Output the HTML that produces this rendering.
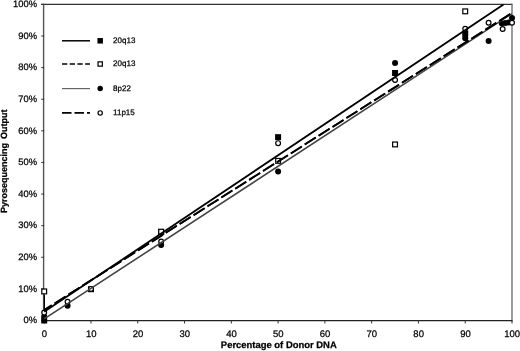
<!DOCTYPE html>
<html><head><meta charset="utf-8"><style>
html,body{margin:0;padding:0;background:#fff;}
body{width:520px;height:351px;overflow:hidden;}
svg{display:block;will-change:transform;text-rendering:geometricPrecision;}
text{font-family:"Liberation Sans",sans-serif;fill:#000;stroke:#000;stroke-width:0.25;}
</style></head><body>
<svg width="520" height="351" viewBox="0 0 520 351">

<line x1="41" y1="4.4" x2="512.3" y2="4.4" stroke="#333" stroke-width="1.3"/>
<line x1="512.0" y1="3.8" x2="512.0" y2="321.5" stroke="#666" stroke-width="1.3"/>
<line x1="43.6" y1="3.8" x2="43.6" y2="321.5" stroke="#555" stroke-width="1.4"/>
<line x1="43" y1="320.7" x2="512.3" y2="320.7" stroke="#222" stroke-width="1.3"/>
<line x1="41.20" y1="320.50" x2="44.20" y2="320.50" stroke="#333" stroke-width="1"/>
<text x="37.1" y="323.30" font-size="9.4" text-anchor="end">0%</text>
<line x1="41.20" y1="288.89" x2="44.20" y2="288.89" stroke="#333" stroke-width="1"/>
<text x="37.1" y="291.69" font-size="9.4" text-anchor="end">10%</text>
<line x1="41.20" y1="257.28" x2="44.20" y2="257.28" stroke="#333" stroke-width="1"/>
<text x="37.1" y="260.08" font-size="9.4" text-anchor="end">20%</text>
<line x1="41.20" y1="225.67" x2="44.20" y2="225.67" stroke="#333" stroke-width="1"/>
<text x="37.1" y="228.47" font-size="9.4" text-anchor="end">30%</text>
<line x1="41.20" y1="194.06" x2="44.20" y2="194.06" stroke="#333" stroke-width="1"/>
<text x="37.1" y="196.86" font-size="9.4" text-anchor="end">40%</text>
<line x1="41.20" y1="162.45" x2="44.20" y2="162.45" stroke="#333" stroke-width="1"/>
<text x="37.1" y="165.25" font-size="9.4" text-anchor="end">50%</text>
<line x1="41.20" y1="130.84" x2="44.20" y2="130.84" stroke="#333" stroke-width="1"/>
<text x="37.1" y="133.64" font-size="9.4" text-anchor="end">60%</text>
<line x1="41.20" y1="99.23" x2="44.20" y2="99.23" stroke="#333" stroke-width="1"/>
<text x="37.1" y="102.03" font-size="9.4" text-anchor="end">70%</text>
<line x1="41.20" y1="67.62" x2="44.20" y2="67.62" stroke="#333" stroke-width="1"/>
<text x="37.1" y="70.42" font-size="9.4" text-anchor="end">80%</text>
<line x1="41.20" y1="36.01" x2="44.20" y2="36.01" stroke="#333" stroke-width="1"/>
<text x="37.1" y="38.81" font-size="9.4" text-anchor="end">90%</text>
<line x1="41.20" y1="4.40" x2="44.20" y2="4.40" stroke="#333" stroke-width="1"/>
<text x="37.1" y="7.20" font-size="9.4" text-anchor="end">100%</text>
<line x1="44.20" y1="320.50" x2="44.20" y2="323.50" stroke="#333" stroke-width="1"/>
<text x="44.40" y="337" font-size="9.5" text-anchor="middle">0</text>
<line x1="90.98" y1="320.50" x2="90.98" y2="323.50" stroke="#333" stroke-width="1"/>
<text x="91.18" y="337" font-size="9.5" text-anchor="middle">10</text>
<line x1="137.76" y1="320.50" x2="137.76" y2="323.50" stroke="#333" stroke-width="1"/>
<text x="137.96" y="337" font-size="9.5" text-anchor="middle">20</text>
<line x1="184.54" y1="320.50" x2="184.54" y2="323.50" stroke="#333" stroke-width="1"/>
<text x="184.74" y="337" font-size="9.5" text-anchor="middle">30</text>
<line x1="231.32" y1="320.50" x2="231.32" y2="323.50" stroke="#333" stroke-width="1"/>
<text x="231.52" y="337" font-size="9.5" text-anchor="middle">40</text>
<line x1="278.10" y1="320.50" x2="278.10" y2="323.50" stroke="#333" stroke-width="1"/>
<text x="278.30" y="337" font-size="9.5" text-anchor="middle">50</text>
<line x1="324.88" y1="320.50" x2="324.88" y2="323.50" stroke="#333" stroke-width="1"/>
<text x="325.08" y="337" font-size="9.5" text-anchor="middle">60</text>
<line x1="371.66" y1="320.50" x2="371.66" y2="323.50" stroke="#333" stroke-width="1"/>
<text x="371.86" y="337" font-size="9.5" text-anchor="middle">70</text>
<line x1="418.44" y1="320.50" x2="418.44" y2="323.50" stroke="#333" stroke-width="1"/>
<text x="418.64" y="337" font-size="9.5" text-anchor="middle">80</text>
<line x1="465.22" y1="320.50" x2="465.22" y2="323.50" stroke="#333" stroke-width="1"/>
<text x="465.42" y="337" font-size="9.5" text-anchor="middle">90</text>
<line x1="512.00" y1="320.50" x2="512.00" y2="323.50" stroke="#333" stroke-width="1"/>
<text x="512.20" y="337" font-size="9.5" text-anchor="middle">100</text>
<text x="278.8" y="348.2" font-size="9.45" font-weight="bold" text-anchor="middle">Percentage of Donor DNA</text>
<text transform="translate(7.3,161.2) rotate(-90)" font-size="9.0" font-weight="bold" text-anchor="middle" word-spacing="1.5">Pyrosequencing Output</text>
<rect x="41.20" y="317.50" width="6.0" height="6.0" fill="#000"/>
<rect x="158.15" y="228.99" width="6.0" height="6.0" fill="#000"/>
<rect x="275.10" y="134.16" width="6.0" height="6.0" fill="#000"/>
<rect x="392.05" y="69.99" width="6.0" height="6.0" fill="#000"/>
<rect x="462.22" y="30.80" width="6.0" height="6.0" fill="#000"/>
<rect x="41.80" y="289.02" width="4.80" height="4.80" fill="#fff" stroke="#000" stroke-width="1.2"/>
<rect x="88.58" y="286.81" width="4.80" height="4.80" fill="#fff" stroke="#000" stroke-width="1.2"/>
<rect x="158.75" y="229.28" width="4.80" height="4.80" fill="#fff" stroke="#000" stroke-width="1.2"/>
<rect x="275.70" y="158.47" width="4.80" height="4.80" fill="#fff" stroke="#000" stroke-width="1.2"/>
<rect x="392.65" y="142.03" width="4.80" height="4.80" fill="#fff" stroke="#000" stroke-width="1.2"/>
<rect x="462.82" y="8.95" width="4.80" height="4.80" fill="#fff" stroke="#000" stroke-width="1.2"/>
<circle cx="44.20" cy="316.39" r="3.0" fill="#000"/>
<circle cx="67.59" cy="305.64" r="3.0" fill="#000"/>
<circle cx="161.15" cy="244.95" r="3.0" fill="#000"/>
<circle cx="278.10" cy="171.62" r="3.0" fill="#000"/>
<circle cx="395.05" cy="62.88" r="3.0" fill="#000"/>
<circle cx="465.22" cy="38.22" r="3.0" fill="#000"/>
<circle cx="488.61" cy="41.07" r="3.0" fill="#000"/>
<circle cx="501.71" cy="23.37" r="3.0" fill="#000"/>
<circle cx="505.45" cy="22.89" r="3.0" fill="#000"/>
<circle cx="508.73" cy="22.42" r="3.0" fill="#000"/>
<circle cx="512.00" cy="17.99" r="3.0" fill="#000"/>
<circle cx="44.20" cy="312.60" r="2.40" fill="#fff" stroke="#000" stroke-width="1.2"/>
<circle cx="67.59" cy="301.85" r="2.40" fill="#fff" stroke="#000" stroke-width="1.2"/>
<circle cx="90.98" cy="288.89" r="2.40" fill="#fff" stroke="#000" stroke-width="1.2"/>
<circle cx="161.15" cy="241.47" r="2.40" fill="#fff" stroke="#000" stroke-width="1.2"/>
<circle cx="278.10" cy="143.17" r="2.40" fill="#fff" stroke="#000" stroke-width="1.2"/>
<circle cx="395.05" cy="79.95" r="2.40" fill="#fff" stroke="#000" stroke-width="1.2"/>
<circle cx="465.22" cy="28.74" r="2.40" fill="#fff" stroke="#000" stroke-width="1.2"/>
<circle cx="488.61" cy="22.73" r="2.40" fill="#fff" stroke="#000" stroke-width="1.2"/>
<circle cx="502.64" cy="29.06" r="2.40" fill="#fff" stroke="#000" stroke-width="1.2"/>
<circle cx="512.00" cy="22.73" r="2.40" fill="#fff" stroke="#000" stroke-width="1.2"/>
<line x1="44.4" y1="294.42" x2="44.4" y2="309.12" stroke="#000" stroke-width="1.2"/>
<line x1="44.20" y1="318.92" x2="512.00" y2="13.57" stroke="#444" stroke-width="1.6"/>
<line x1="44.20" y1="310.07" x2="512.00" y2="12.93" stroke="#000" stroke-width="1.8" stroke-dasharray="13 3.46" stroke-dashoffset="4.09"/>
<line x1="44.20" y1="310.07" x2="512.00" y2="12.93" stroke="#000" stroke-width="1.8" stroke-dasharray="13 3.46" stroke-dashoffset="4.09"/>
<line x1="44.20" y1="311.81" x2="503.50" y2="4.40" stroke="#000" stroke-width="1.8"/>
<line x1="62" y1="40.8" x2="90" y2="40.8" stroke="#000" stroke-width="1.5"/>
<rect x="97.45" y="38.05" width="5.5" height="5.5" fill="#000"/>
<text x="113.1" y="42.90" font-size="8.0" class="lg">20q13</text>
<line x1="62" y1="64.0" x2="90" y2="64.0" stroke="#000" stroke-width="1.4" stroke-dasharray="5.3 2.4"/>
<rect x="98.05" y="61.85" width="4.30" height="4.30" fill="#fff" stroke="#000" stroke-width="1.2"/>
<text x="113.1" y="66.10" font-size="8.0" class="lg">20q13</text>
<line x1="62" y1="88.6" x2="90" y2="88.6" stroke="#666" stroke-width="1.2"/>
<circle cx="100.20" cy="88.60" r="2.75" fill="#000"/>
<text x="113.1" y="90.70" font-size="8.0" class="lg">8p22</text>
<line x1="62" y1="112.9" x2="90" y2="112.9" stroke="#000" stroke-width="1.8" stroke-dasharray="9.5 3"/>
<circle cx="100.20" cy="112.90" r="2.15" fill="#fff" stroke="#000" stroke-width="1.2"/>
<text x="113.1" y="115.00" font-size="8.0" class="lg">11p15</text>
</svg></body></html>
